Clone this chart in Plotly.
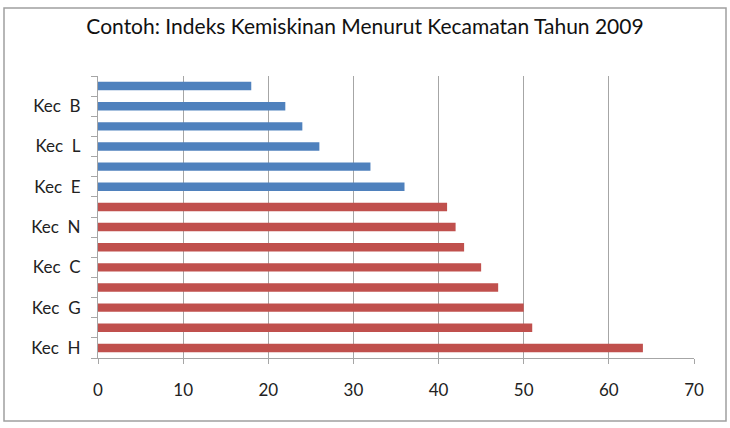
import plotly.graph_objects as go

# Categories listed bottom -> top
kecamatan = ["Kec  H", "Kec  M", "Kec  G", "Kec  K", "Kec  C", "Kec  J", "Kec  N",
             "Kec  I", "Kec  E", "Kec  F", "Kec  L", "Kec  D", "Kec  B", "Kec  A"]
indeks = [64, 51, 50, 47, 45, 43, 42, 41, 36, 32, 26, 24, 22, 18]
tampil_label = [True, False, True, False, True, False, True,
                False, True, False, True, False, True, False]
x_ticks = [0, 10, 20, 30, 40, 50, 60, 70]
title_text = "Contoh: Indeks Kemiskinan Menurut Kecamatan Tahun 2009"

rata2 = sum(indeks) / len(indeks)
colors = ["#c0504d" if v > rata2 else "#4f81bd" for v in indeks]

fig = go.Figure(go.Bar(
    y=kecamatan, x=indeks, orientation="h",
    marker=dict(color=colors, line=dict(width=0)),
))

L, R, T, B = 98, 36, 76, 70
W, H = 730, 428
pw, ph = W - L - R, H - T - B

fig.update_layout(
    width=W, height=H,
    margin=dict(l=L, r=R, t=T, b=B),
    paper_bgcolor="white", plot_bgcolor="white",
    bargap=0.58,
    showlegend=False,
    font=dict(family="Lato, Open Sans, sans-serif", color="#222"),
    title=dict(text=title_text, x=0.5, xanchor="center", y=1 - 27 / H, yanchor="middle",
               font=dict(size=21, color="#111", family="Lato, Open Sans, sans-serif")),
    xaxis=dict(range=[0, 70], tickvals=x_ticks, showgrid=True, gridcolor="#a6a6a6", gridwidth=1,
               zeroline=False, showline=True, linecolor="#a6a6a6", linewidth=1,
               ticks="outside", ticklen=5, tickcolor="#a6a6a6",
               tickfont=dict(size=17, color="#222"), ticklabelstandoff=12, fixedrange=True),
    yaxis=dict(tickvals=kecamatan,
               ticktext=[k if s else "" for k, s in zip(kecamatan, tampil_label)],
               tickson="boundaries", ticks="outside", ticklen=6, tickcolor="#a6a6a6",
               showline=True, linecolor="#a6a6a6", linewidth=1, showgrid=False,
               tickfont=dict(size=17, color="#222"), ticklabelstandoff=13),
    shapes=[dict(type="rect", xref="paper", yref="paper",
                 x0=(4 - L) / pw, x1=(726 - L) / pw,
                 y0=(H - B - 421) / ph, y1=(H - B - 8) / ph,
                 line=dict(color="#a0a0a0", width=1.5), fillcolor="rgba(0,0,0,0)", layer="below")],
)

fig.write_html("out.html")
